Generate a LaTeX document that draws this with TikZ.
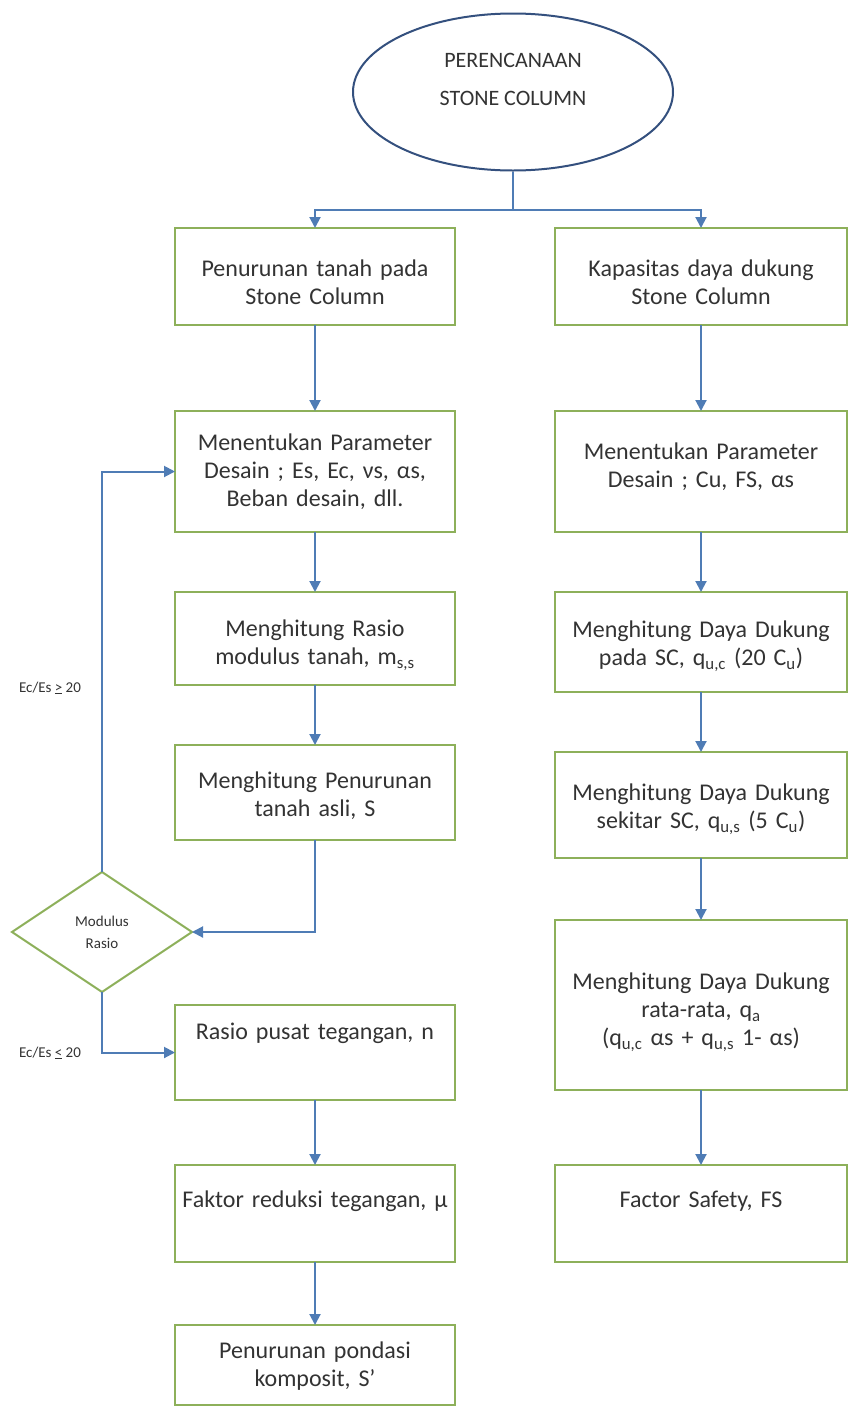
\documentclass[tikz,border=0pt]{standalone}
\usepackage{fontspec}
\setmainfont{Carlito}
\usetikzlibrary{positioning,shapes.geometric,arrows.meta}

\definecolor{boxgreen}{HTML}{8DB05A}
\definecolor{linkblue}{HTML}{4F7CB5}
\definecolor{ovalblue}{HTML}{34507E}
\definecolor{txtgray}{HTML}{333333}

\begin{document}
\begin{tikzpicture}[
  x=1pt, y=-1pt,
  font=\fontsize{24}{28}\selectfont,
  text=txtgray,
  box/.style={draw=boxgreen, line width=2pt, align=center, text width=280pt, inner xsep=0pt, inner ysep=0pt, outer sep=0pt},
  rbox/.style={box, text width=292pt},
  lift/.style={text depth=#1},
  start/.style={draw=ovalblue, line width=2pt, ellipse, minimum width=320pt, minimum height=157pt, inner sep=0pt, align=center, text depth=26pt, font=\fontsize{22}{38}\selectfont},
  decision/.style={draw=boxgreen, line width=2pt, diamond, minimum width=180pt, minimum height=120pt, inner sep=0pt, outer sep=0pt, align=center, font=\fontsize{15}{22}\selectfont},
  cond/.style={font=\fontsize{15}{18}\selectfont},
  line/.style={draw=linkblue, line width=2pt},
  arrow/.style={line, -{Triangle[length=11pt,width=11pt]}},
]
  \useasboundingbox (0,0) rectangle (849,1414);

  \node[start] (plan) at (513,92) {PERENCANAAN\\STONE COLUMN};
  \coordinate (fork) at (513,210);

  % left column: penurunan
  \node[box, lift=16pt, minimum height=97pt, anchor=north] (settle) at (315,228) {Penurunan tanah pada\\Stone Column};
  \node[box, minimum height=121pt, below=86pt of settle] (paramL) {Menentukan Parameter\\Desain ; Es, Ec, νs, αs,\\Beban desain, dll.};
  \node[box, lift=20pt, minimum height=93pt, below=60pt of paramL] (ratio) {Menghitung Rasio\\modulus tanah, m\textsubscript{s,s}};
  \node[box, lift=24pt, minimum height=95pt, below=60pt of ratio] (soil) {Menghitung Penurunan\\tanah asli, S};
  \node[box, lift=42pt, minimum height=95pt, below=165pt of soil] (stress) {Rasio pusat tegangan, n};
  \node[box, lift=28pt, minimum height=97pt, below=65pt of stress] (reduce) {Faktor reduksi tegangan, μ};
  \node[box, lift=30pt, minimum height=80pt, below=63pt of reduce] (comp) {Penurunan pondasi\\komposit, S'};

  \node[decision] (mod) at (102,932) {Modulus\\Rasio};
  \node[cond] (high) at (50,688) {Ec/Es \underline{>} 20};
  \node[cond] (low) at (50,1053) {Ec/Es \underline{<} 20};

  % right column: daya dukung
  \node[rbox, lift=16pt, minimum height=97pt, anchor=north] (cap) at (701,228) {Kapasitas daya dukung\\Stone Column};
  \node[rbox, lift=40pt, minimum height=121pt, below=86pt of cap] (paramR) {Menentukan Parameter\\Desain ; Cu, FS, αs};
  \node[rbox, lift=26pt, minimum height=100pt, below=60pt of paramR] (quc) {Menghitung Daya Dukung\\pada SC, q\textsubscript{u,c} (20 C\textsubscript{u})};
  \node[rbox, lift=26pt, minimum height=106pt, below=60pt of quc] (qus) {Menghitung Daya Dukung\\sekitar SC, q\textsubscript{u,s} (5 C\textsubscript{u})};
  \node[rbox, lift=48pt, minimum height=170pt, below=62pt of qus] (qa) {Menghitung Daya Dukung\\rata-rata, q\textsubscript{a}\\(q\textsubscript{u,c} αs + q\textsubscript{u,s} 1- αs)};
  \node[rbox, lift=28pt, minimum height=97pt, below=75pt of qa] (fs) {Factor Safety, FS};

  \draw[line] (plan.south) -- (fork);
  \draw[arrow] (fork) -| (settle.north);
  \draw[arrow] (fork) -| (cap.north);

  \draw[arrow] (settle) -- (paramL);
  \draw[arrow] (paramL) -- (ratio);
  \draw[arrow] (ratio) -- (soil);
  \draw[arrow] (soil.south) |- (mod.east);
  \draw[arrow] (mod.north) |- (paramL.west);
  \draw[arrow] (mod.south) |- (stress.west);
  \draw[arrow] (stress) -- (reduce);
  \draw[arrow] (reduce) -- (comp);

  \draw[arrow] (cap) -- (paramR);
  \draw[arrow] (paramR) -- (quc);
  \draw[arrow] (quc) -- (qus);
  \draw[arrow] (qus) -- (qa);
  \draw[arrow] (qa) -- (fs);
\end{tikzpicture}
\end{document}
